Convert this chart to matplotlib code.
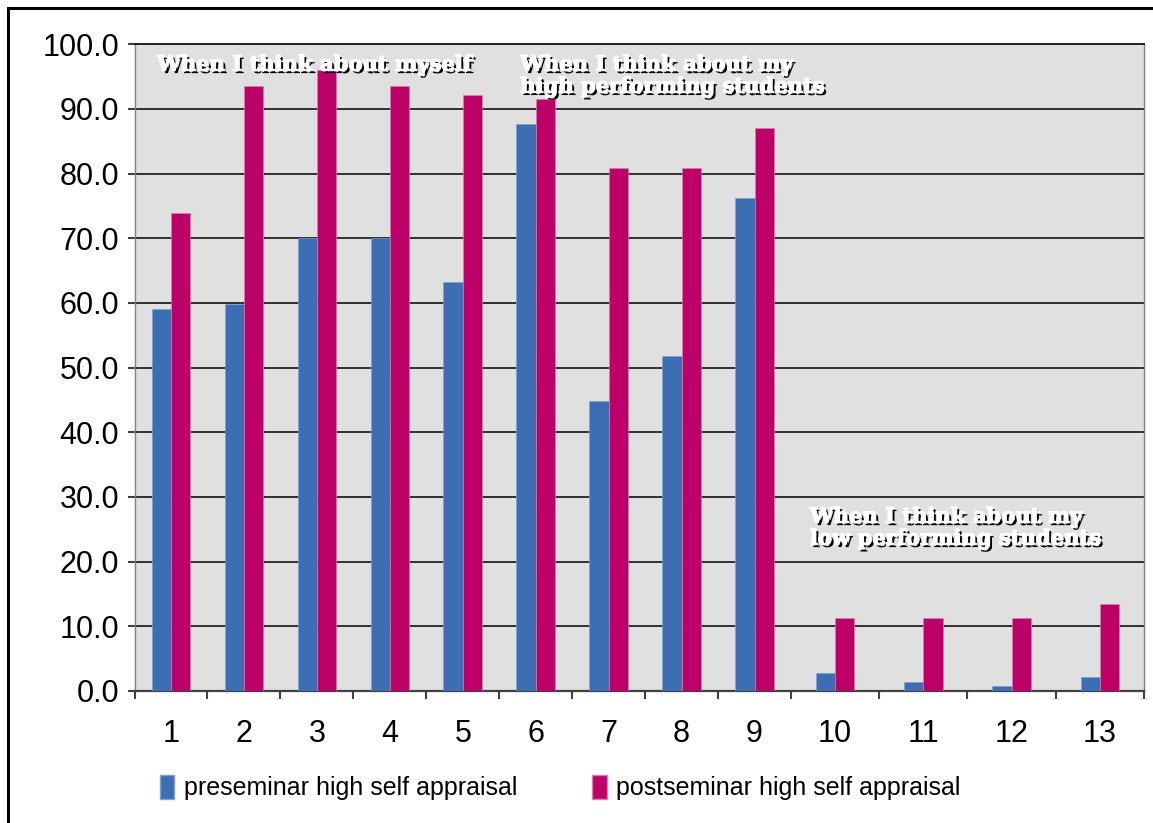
import matplotlib
matplotlib.use("Agg")
import matplotlib.pyplot as plt
import matplotlib.patheffects as pe
from matplotlib.patches import Rectangle, Patch
import numpy as np

categories = [str(i) for i in range(1, 14)]
pre_seminar = [59.1, 59.9, 70.0, 70.0, 63.3, 87.7, 44.9, 51.8, 76.3, 2.8, 1.4, 0.8, 2.1]
post_seminar = [73.9, 93.5, 96.0, 93.5, 92.2, 91.5, 80.9, 80.9, 87.1, 11.3, 11.3, 11.3, 13.4]
series_names = ["preseminar high self appraisal", "postseminar high self appraisal"]
group_notes = ["When I think about myself",
               "When I think about my\nhigh performing students",
               "When I think about my\nlow performing students"]

BLUE = "#3C6EB4"
MAGENTA = "#BC0067"

plt.rcParams["font.family"] = ["Liberation Sans", "DejaVu Sans"]

# the low-performing group (items 10-13) sits on a wider stretch of the axis
BREAK = 8.5
STRETCH = 1.21


def fwd(x):
    x = np.asarray(x, dtype=float)
    return np.where(x > BREAK, BREAK + (x - BREAK) * STRETCH, x)


def inv(y):
    y = np.asarray(y, dtype=float)
    return np.where(y > BREAK, BREAK + (y - BREAK) / STRETCH, y)


fig = plt.figure(figsize=(11.53, 8.23), dpi=100)
ax = fig.add_axes([0.1167, 0.1604, 0.8755, 0.7858])
ax.set_xscale("function", functions=(fwd, inv))

x = np.arange(len(categories))
bar_w = 0.265 / np.where(x > BREAK, STRETCH, 1.0)
ax.bar(x, pre_seminar, width=-bar_w, align="edge", color=BLUE,
       edgecolor="#7f9fcf", linewidth=0.5, zorder=3)
ax.bar(x, post_seminar, width=bar_w, align="edge", color=MAGENTA,
       edgecolor="#d77fae", linewidth=0.5, zorder=3)

ax.set_facecolor("#E0E0E0")
ax.set_xlim(-0.5, len(categories) - 0.5)
ax.set_ylim(0, 100)
ax.set_yticks(np.arange(0, 101, 10))
ax.set_yticklabels([f"{v:.1f}" for v in np.arange(0, 101, 10)])
ax.yaxis.grid(True, color="#303030", linewidth=1.4, zorder=1)
ax.set_axisbelow(True)

ax.set_xticks(x)
ax.set_xticklabels(categories)
ax.set_xticks(np.arange(-0.5, len(categories), 1.0), minor=True)
ax.tick_params(axis="x", which="major", length=0, pad=20, labelsize=22)
ax.tick_params(axis="x", which="minor", length=5.5, width=1.5, color="#404040", direction="out")
ax.tick_params(axis="y", length=5, width=1.5, color="#404040", pad=6, labelsize=22)

for name, sp in ax.spines.items():
    sp.set_color("#808080")
    sp.set_linewidth(1.0)
ax.spines["bottom"].set_color("#404040")
ax.spines["bottom"].set_linewidth(1.6)
ax.spines["top"].set_color("#202020")
ax.spines["top"].set_linewidth(1.4)

shadow = [pe.withSimplePatchShadow(offset=(1.8, -1.8), shadow_rgbFace="black", alpha=1.0),
          pe.Stroke(linewidth=0.9, foreground="white"),
          pe.Normal()]
note_pos = [(0.0223, 0.984), (0.382, 0.984), (0.669, 0.285)]
for (tx, ty), note in zip(note_pos, group_notes):
    ax.text(tx, ty, note, transform=ax.transAxes, ha="left", va="top",
            fontsize=15.2, fontweight="bold", family="DejaVu Serif",
            color="white", linespacing=1.12, path_effects=shadow, zorder=5)

handles = [Patch(facecolor=BLUE, edgecolor="#7f9fcf", label=series_names[0]),
           Patch(facecolor=MAGENTA, edgecolor="#d77fae", label=series_names[1])]
fig.legend(handles=handles, loc="center left", bbox_to_anchor=(0.119, 0.043),
           ncol=2, frameon=False, fontsize=18, handlelength=0.58, handleheight=1.1,
           handletextpad=0.38, columnspacing=3.0)

# outer frame around the whole chart
fig.patches.append(Rectangle((0.007, -0.1), 1.2, 1.0899, transform=fig.transFigure,
                             fill=False, edgecolor="black", linewidth=2.2))

fig.savefig("out.png", dpi=100)
